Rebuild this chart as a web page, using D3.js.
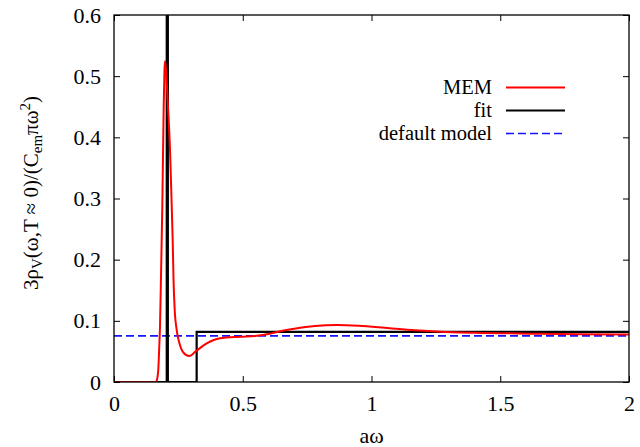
<!DOCTYPE html>
<html>
<head>
<meta charset="utf-8">
<script src="https://cdn.jsdelivr.net/npm/d3@7"></script>
<style>
  body { margin: 0; background: #fff; font-family: "Liberation Serif", serif; }
</style>
</head>
<body>
<div id="chart"></div>
<script>
// MEM spectral function
const memX = [0, 0.16, 0.1631, 0.1689, 0.172, 0.1755, 0.1786, 0.1833, 0.1876, 0.193, 0.196, 0.198,
  0.202, 0.2097, 0.2175, 0.2233, 0.228, 0.231, 0.2357, 0.2435, 0.2536, 0.268, 0.2924, 0.3184, 0.36,
  0.4117, 0.489, 0.554, 0.6, 0.637, 0.7, 0.78, 0.865, 0.95, 1.07, 1.17, 1.266, 1.4, 1.654, 1.82, 2.0];
const memY = [0, 0, 0, 0.008, 0.02, 0.055, 0.09, 0.19, 0.287, 0.45, 0.51, 0.525,
  0.51, 0.45, 0.38, 0.3, 0.23, 0.17, 0.118, 0.085, 0.064, 0.049, 0.0425, 0.0505, 0.063,
  0.0714, 0.074, 0.0755, 0.0785, 0.0822, 0.087, 0.0915, 0.0932, 0.092, 0.0878, 0.0845, 0.0822, 0.0805,
  0.079, 0.078, 0.0775];

// fit: delta peak + continuum step
const deltaPos = 0.207;
const stepX = [0, 0.321, 0.321, 2];
const stepY = [0, 0, 0.082, 0.082];
const defaultLevel = 0.0755;

const xTicks = [0, 0.5, 1, 1.5, 2];
const yTicks = [0, 0.1, 0.2, 0.3, 0.4, 0.5, 0.6];
const legendNames = ["MEM", "fit", "default model"];

const W = 640, H = 447;
const margin = { top: 15, right: 11, bottom: 65, left: 114 },
  width = W - margin.left - margin.right,
  height = H - margin.top - margin.bottom;

const FONT = "font-family: 'Liberation Serif', 'Times New Roman', serif; font-size: 22px;";

const svg = d3.select("#chart").append("svg")
  .attr("width", W).attr("height", H)
  .append("g")
  .attr("transform", `translate(${margin.left},${margin.top})`);

const x = d3.scaleLinear().domain([0, 2]).range([0, width]);
const y = d3.scaleLinear().domain([0, 0.6]).range([height, 0]);

svg.append("clipPath").attr("id", "clip")
  .append("rect").attr("width", width).attr("height", height);

// ticks (inward, mirrored like gnuplot)
const tl = 6;
svg.append("g").attr("transform", `translate(0,${height})`)
  .call(d3.axisBottom(x).tickValues(xTicks).tickSizeInner(-tl).tickSizeOuter(0).tickPadding(13)
    .tickFormat(d3.format("")))
  .call(g => g.select(".domain").remove())
  .call(g => g.selectAll("text").attr("style", FONT));
svg.append("g")
  .call(d3.axisTop(x).tickValues(xTicks).tickSizeInner(-tl).tickSizeOuter(0).tickFormat(""))
  .call(g => g.select(".domain").remove());
svg.append("g")
  .call(d3.axisLeft(y).tickValues(yTicks).tickSizeInner(-tl).tickSizeOuter(0).tickPadding(13)
    .tickFormat(d => d === 0 ? "0" : d3.format(".1f")(d)))
  .call(g => g.select(".domain").remove())
  .call(g => g.selectAll("text").attr("style", FONT));
svg.append("g").attr("transform", `translate(${width},0)`)
  .call(d3.axisRight(y).tickValues(yTicks).tickSizeInner(-tl).tickSizeOuter(0).tickFormat(""))
  .call(g => g.select(".domain").remove());
svg.selectAll(".tick line").attr("stroke", "#000").attr("stroke-width", 1);

const plot = svg.append("g").attr("clip-path", "url(#clip)");

// default model
plot.append("line")
  .attr("x1", x(0)).attr("x2", x(2))
  .attr("y1", y(defaultLevel)).attr("y2", y(defaultLevel))
  .attr("stroke", "#1414ff").attr("stroke-width", 1.7)
  .attr("stroke-dasharray", "8,4");

// fit
const line = d3.line().x(d => x(d[0])).y(d => y(d[1]));
plot.append("path")
  .datum(stepX.map((v, i) => [v, stepY[i]]))
  .attr("fill", "none").attr("stroke", "#000").attr("stroke-width", 2.2)
  .attr("d", line);
plot.append("line")
  .attr("x1", x(deltaPos)).attr("x2", x(deltaPos))
  .attr("y1", y(0)).attr("y2", y(0.6) - 5)
  .attr("stroke", "#000").attr("stroke-width", 3.3);

// MEM
plot.append("path")
  .datum(memX.map((v, i) => [v, memY[i]]))
  .attr("fill", "none").attr("stroke", "#ff0000").attr("stroke-width", 2)
  .attr("d", line.curve(d3.curveMonotoneX));

// frame
svg.append("rect").attr("width", width).attr("height", height)
  .attr("fill", "none").attr("stroke", "#000").attr("stroke-width", 1.3);

// legend
const legendColors = ["#ff0000", "#000", "#1414ff"];
const lg = svg.append("g").attr("transform", `translate(${492 - margin.left},${87.5 - margin.top})`);
legendNames.forEach((n, i) => {
  const row = lg.append("g").attr("transform", `translate(0,${i * 23})`);
  row.append("text").attr("text-anchor", "end").attr("dy", "0.33em")
    .attr("style", FONT.replace("22px", "20.5px")).text(n);
  row.append("line").attr("x1", 14).attr("x2", 73)
    .attr("stroke", legendColors[i])
    .attr("stroke-width", i === 2 ? 1.7 : 2.2)
    .attr("stroke-dasharray", i === 2 ? "8,4" : null);
});

// axis titles
svg.append("text").attr("x", width / 2).attr("y", 443 - margin.top)
  .attr("text-anchor", "middle").attr("style", FONT).text("aω");

const yl = svg.append("text")
  .attr("transform", `translate(${38 - margin.left},${193 - margin.top}) rotate(-90)`)
  .attr("text-anchor", "middle").attr("style", FONT.replace("22px", "21px"));
yl.append("tspan").text("3ρ");
yl.append("tspan").attr("style", "font-size:15px").attr("dy", 4).text("V");
yl.append("tspan").attr("dy", -4).text("(ω,T ≈ 0)/(C");
yl.append("tspan").attr("style", "font-size:15px").attr("dy", 4).text("em");
yl.append("tspan").attr("dy", -4).text("πω");
yl.append("tspan").attr("style", "font-size:15px").attr("dy", -8).text("2");
yl.append("tspan").attr("dy", 8).text(")");
</script>
</body>
</html>
